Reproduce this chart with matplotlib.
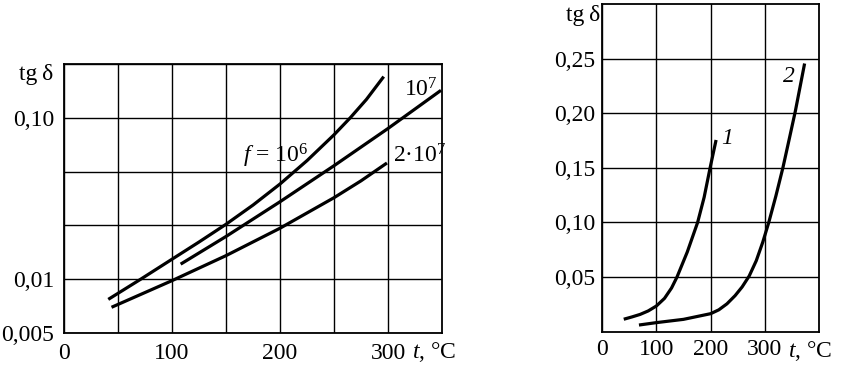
import numpy as np
import matplotlib
matplotlib.use("Agg")
from matplotlib import pyplot as plt

plt.rcParams["font.family"] = ["Liberation Serif", "DejaVu Serif"]
plt.rcParams["mathtext.fontset"] = "custom"
plt.rcParams["mathtext.rm"] = "Liberation Serif"
plt.rcParams["mathtext.it"] = "Liberation Serif:italic"
plt.rcParams["font.size"] = 17

# Left chart: tg delta vs t for three frequencies (log scale)
t_f1 = [41, 71, 100, 125, 150, 175, 200, 225, 250, 265, 280, 296]
tg_f1 = [0.0075, 0.0100, 0.0133, 0.0170, 0.0219, 0.0288, 0.0389, 0.0543,
         0.0785, 0.100, 0.130, 0.180]

t_f2 = [108, 150, 200, 250, 300, 349]
tg_f2 = [0.0124, 0.0184, 0.0302, 0.0505, 0.0859, 0.148]

t_f3 = [44, 100, 150, 200, 250, 275, 299]
tg_f3 = [0.0067, 0.0098, 0.0140, 0.0207, 0.0320, 0.0407, 0.0525]

# Right chart: tg delta vs t for materials 1 and 2 (linear scale)
t_m1 = [40, 55, 70, 85, 100, 115, 128, 138, 157, 176, 188, 199, 210]
tg_m1 = [0.0114, 0.0135, 0.0158, 0.0190, 0.0235, 0.0305, 0.040, 0.050,
         0.073, 0.100, 0.123, 0.150, 0.1755]

t_m2 = [68, 100, 150, 200, 215, 230, 245, 258, 271, 284, 296, 307, 320,
        333, 345, 356, 373]
tg_m2 = [0.0061, 0.0083, 0.0113, 0.0165, 0.020, 0.0255, 0.033, 0.041,
         0.051, 0.065, 0.082, 0.100, 0.124, 0.150, 0.177, 0.202, 0.2455]

# grid every third of a decade, 0.005 ... 0.2
left_grid_y = 10.0 ** (-np.arange(7, 1, -1) / 3.0)
left_ylabels = ["0,005", "0,01", "", "", "0,10", ""]
right_yticks = [0.05, 0.10, 0.15, 0.20, 0.25]
right_ylabels = ["0,05", "0,10", "0,15", "0,20", "0,25"]
xticks = [0, 100, 200, 300]

fig = plt.figure(figsize=(8.42, 3.67), dpi=100)
ax1 = fig.add_axes([0.076, 0.0926, 0.449, 0.733])
ax2 = fig.add_axes([0.715, 0.0962, 0.258, 0.893])

lw = 2.3

# Left chart
ax1.set_yscale("log")
for t, tg in ((t_f1, tg_f1), (t_f2, tg_f2), (t_f3, tg_f3)):
    ax1.plot(t, tg, color="black", lw=lw, solid_capstyle="butt")
ax1.set_xlim(0, 350)
ax1.set_ylim(10 ** (-7 / 3), 10 ** (-2 / 3))
ax1.set_xticks([0, 50, 100, 150, 200, 250, 300])
ax1.set_xticklabels(["0", "", "100", "", "200", "", "300"])
ax1.set_yticks(left_grid_y)
ax1.set_yticklabels(left_ylabels)
ax1.minorticks_off()
ax1.grid(True, color="black", lw=1.0)
ax1.text(166, 0.0525, "$f$ = 10$^6$", va="baseline", ha="left")
ax1.text(315, 0.136, "10$^7$", va="baseline", ha="left")
ax1.text(305, 0.0525, "2·10$^7$", va="baseline", ha="left")
ax1.annotate("$t$, °C", xy=(322, 0), xycoords=("data", "axes fraction"),
             xytext=(0, -7), textcoords="offset pixels", va="top", ha="left")
ax1.text(-0.028, 0.96, "tg\u2009δ", transform=ax1.transAxes, ha="right",
         va="center")
ax1.tick_params(length=0, pad=7)

# Right chart
ax2.plot(t_m1, tg_m1, color="black", lw=lw, solid_capstyle="butt")
ax2.plot(t_m2, tg_m2, color="black", lw=lw, solid_capstyle="butt")
ax2.set_xlim(0, 400)
ax2.set_ylim(0, 0.30)
ax2.set_xticks(xticks)
ax2.set_yticks(right_yticks)
ax2.set_yticklabels(right_ylabels)
ax2.grid(True, color="black", lw=1.0)
ax2.text(231, 0.177, "1", ha="center", va="center", fontstyle="italic")
ax2.text(345, 0.234, "2", ha="center", va="center", fontstyle="italic")
ax2.annotate("$t$, °C", xy=(342, 0), xycoords=("data", "axes fraction"),
             xytext=(0, -7), textcoords="offset pixels", va="top", ha="left")
ax2.text(-0.01, 0.966, "tg\u2009δ", transform=ax2.transAxes, ha="right",
         va="center")
ax2.tick_params(length=0, pad=5)

for ax in (ax1, ax2):
    for sp in ax.spines.values():
        sp.set_linewidth(1.3)

fig.savefig("out.png", dpi=100)
